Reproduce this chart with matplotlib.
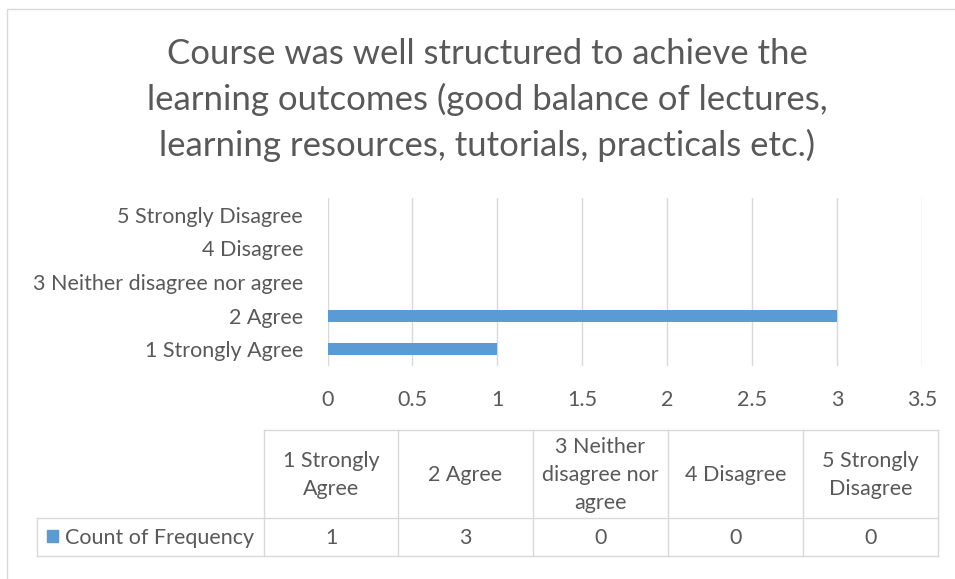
import textwrap
import matplotlib
matplotlib.use("Agg")
import matplotlib.pyplot as plt
from matplotlib.patches import Rectangle

categories = ["1 Strongly Agree", "2 Agree", "3 Neither disagree nor agree",
              "4 Disagree", "5 Strongly Disagree"]
counts = [1, 3, 0, 0, 0]
series_name = "Count of Frequency"
x_ticks = [0, 0.5, 1, 1.5, 2, 2.5, 3, 3.5]
title = ("Course was well structured to achieve the\n"
         "learning outcomes (good balance of lectures,\n"
         "learning resources, tutorials, practicals etc.)")

BAR = "#5B9BD5"
TXT = "#595959"
GRID = "#D9D9D9"
FONT = "Lato"
FS = 15.5

W, H = 955, 579
fig = plt.figure(figsize=(W / 100, H / 100), dpi=100)
fig.patch.set_facecolor("white")

def fx(px):
    return px / W

def fy(py):
    return 1 - py / H

# overlay axes in pixel coordinates for frame, title and table
ov = fig.add_axes([0, 0, 1, 1])
ov.set_xlim(0, W)
ov.set_ylim(H, 0)
ov.axis("off")
ov.add_patch(Rectangle((7, 9), 960, 580, fill=False, edgecolor="#D9D9D9", lw=1))

ov.text(487.5, 100, title, ha="center", va="center", fontsize=25, color=TXT,
        family=FONT, linespacing=1.47)

# bar chart axes
left, right, top, bottom = 327.5, 922, 198, 366
ax = fig.add_axes([fx(left), fy(bottom), fx(right) - fx(left), fy(top) - fy(bottom)])
ypos = list(range(1, len(categories) + 1))
ax.barh(ypos, counts, height=0.36, color=BAR, zorder=3)
ax.set_xlim(0, 3.5)
ax.set_ylim(0.5, len(categories) + 0.5)
ax.set_xticks(x_ticks)
ax.set_xticklabels([f"{t:g}" for t in x_ticks])
ax.set_yticks(ypos)
ax.set_yticklabels(categories)
ax.grid(axis="x", color=GRID, lw=1, zorder=0)
for s in ax.spines.values():
    s.set_visible(False)
ax.tick_params(length=0, labelsize=FS, labelcolor=TXT)
ax.tick_params(axis="x", pad=17.3)
ax.tick_params(axis="y", pad=17.5)
for lab in ax.get_xticklabels() + ax.get_yticklabels():
    lab.set_family(FONT)

# data table
col_edges = [264, 398, 533, 668, 803, 938]
label_left = 37
row_top, row_mid, row_bot = 430, 518, 556
lw = 1
ov.plot([col_edges[0], col_edges[-1]], [row_top, row_top], color=GRID, lw=lw)
ov.plot([label_left, col_edges[-1]], [row_mid, row_mid], color=GRID, lw=lw)
ov.plot([label_left, col_edges[-1]], [row_bot, row_bot], color=GRID, lw=lw)
for xe in col_edges:
    ov.plot([xe, xe], [row_top, row_bot], color=GRID, lw=lw)
ov.plot([label_left, label_left], [row_mid, row_bot], color=GRID, lw=lw)

for i, (cat, val) in enumerate(zip(categories, counts)):
    cx = (col_edges[i] + col_edges[i + 1]) / 2
    ov.text(cx, (row_top + row_mid) / 2 + 1, "\n".join(textwrap.wrap(cat, 12)),
            ha="center", va="center", fontsize=FS, color=TXT, family=FONT,
            linespacing=1.5)
    ov.text(cx, (row_mid + row_bot) / 2 + 1, str(val), ha="center", va="center",
            fontsize=FS, color=TXT, family=FONT)

ov.add_patch(Rectangle((47, 530), 11, 12, color=BAR))
ov.text(65, (row_mid + row_bot) / 2 + 1, series_name, ha="left", va="center",
        fontsize=FS, color=TXT, family=FONT)

fig.savefig("out.png", dpi=100)
